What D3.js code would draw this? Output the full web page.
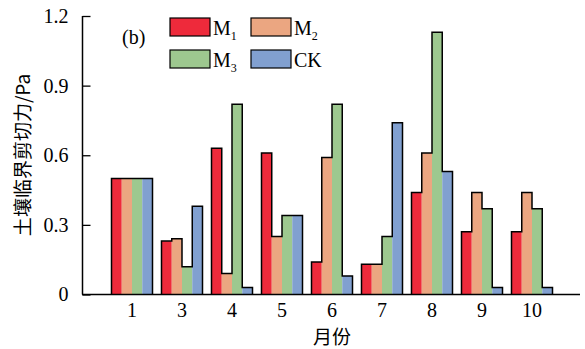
<!DOCTYPE html>
<html>
<head>
<meta charset="utf-8">
<script src="https://cdn.jsdelivr.net/npm/d3@7"></script>
<style>
  body { margin: 0; background: #fff; }
  text { font-family: "Liberation Serif", "Times New Roman", serif; fill: #000; }
  .cjk { font-family: "Noto Sans CJK SC", sans-serif; }
</style>
</head>
<body>
<div id="vis"></div>
<script>
// months along the x axis
var months = ['1', '3', '4', '5', '6', '7', '8', '9', '10'];
// series names and values (Pa)
var seriesNames = ['M1', 'M2', 'M3', 'CK'];
var m1 = [0.50, 0.23, 0.63, 0.61, 0.14, 0.13, 0.44, 0.27, 0.27];
var m2 = [0.50, 0.24, 0.09, 0.25, 0.59, 0.13, 0.61, 0.44, 0.44];
var m3 = [0.50, 0.12, 0.82, 0.34, 0.82, 0.25, 1.13, 0.37, 0.37];
var ck = [0.50, 0.38, 0.03, 0.34, 0.08, 0.74, 0.53, 0.03, 0.03];
var yTicks = [0, 0.3, 0.6, 0.9, 1.2];

var width = 585;
var height = 349;
var colors = ['#ee2a3b', '#eba681', '#9dc88f', '#81a0d0'];
var values = [m1, m2, m3, ck];

var svg = d3.select('#vis').append('svg')
  .attr('width', width)
  .attr('height', height);

var y = d3.scaleLinear().domain([0, 1.2]).range([294.5, 16]);

var x0 = d3.scaleBand().domain(months).range([107, 557]);
var groupW = 41;
var x1 = d3.scaleBand().domain(seriesNames)
  .range([(x0.bandwidth() - groupW) / 2, (x0.bandwidth() + groupW) / 2]);

// bars
months.forEach(function (m, i) {
  var g = svg.append('g').attr('transform', 'translate(' + x0(m) + ',0)');
  g.selectAll('rect')
    .data(seriesNames)
    .enter().append('rect')
    .attr('x', function (s) { return x1(s); })
    .attr('y', function (s, j) { return y(values[j][i]); })
    .attr('width', x1.bandwidth())
    .attr('height', function (s, j) { return y(0) - y(values[j][i]); })
    .attr('fill', function (s, j) { return colors[j]; });

  // black silhouette outline of the group
  var path = d3.path();
  var bw = x1.bandwidth();
  path.moveTo(x1(seriesNames[0]), y(0));
  seriesNames.forEach(function (s, j) {
    path.lineTo(x1(s), y(values[j][i]));
    path.lineTo(x1(s) + bw, y(values[j][i]));
  });
  path.lineTo(x1(seriesNames[3]) + bw, y(0));
  g.append('path')
    .attr('d', path.toString())
    .attr('fill', 'none')
    .attr('stroke', '#000')
    .attr('stroke-width', 1.5)
    .attr('stroke-linejoin', 'miter');
});

// y axis with inward ticks
var yAxis = d3.axisLeft(y).tickValues(yTicks)
  .tickSize(-8).tickPadding(14)
  .tickFormat(function (d) { return d === 0 ? '0' : d3.format('.1f')(d); });
var gy = svg.append('g').attr('transform', 'translate(82.5,0)').call(yAxis);
gy.attr('font-family', null);
gy.select('.domain').attr('d', 'M0,' + y(1.2) + 'V' + y(0)).attr('stroke-width', 1.5);
gy.selectAll('.tick line').attr('stroke-width', 1.3);
gy.selectAll('.tick text')
  .style('font-family', '"Liberation Serif", serif')
  .style('font-size', '20px');

// x axis line, no ticks
var xAxis = d3.axisBottom(x0).tickSize(0).tickPadding(8);
var gx = svg.append('g').attr('transform', 'translate(0,' + y(0) + ')').call(xAxis);
gx.attr('font-family', null);
gx.select('.domain').attr('d', 'M82,0H580').attr('stroke-width', 1.5);
gx.selectAll('.tick text')
  .style('font-family', '"Liberation Serif", serif')
  .style('font-size', '20px');

// axis titles
svg.append('text')
  .attr('class', 'cjk')
  .attr('transform', 'translate(30,155) rotate(-90)')
  .attr('text-anchor', 'middle')
  .style('font-size', '19px')
  .text('土壤临界剪切力/Pa');

svg.append('text')
  .attr('class', 'cjk')
  .attr('x', 332)
  .attr('y', 344)
  .attr('text-anchor', 'middle')
  .style('font-size', '19px')
  .text('月份');

// panel label
svg.append('text')
  .attr('x', 122)
  .attr('y', 44)
  .style('font-size', '20px')
  .text('(b)');

// legend
var legendPos = [[170, 18], [251, 18], [170, 50], [251, 50]];
var legendLabels = [['M', '1'], ['M', '2'], ['M', '3'], ['CK', '']];
var lg = svg.append('g');
legendPos.forEach(function (p, j) {
  lg.append('rect')
    .attr('x', p[0]).attr('y', p[1])
    .attr('width', 40).attr('height', 18)
    .attr('fill', colors[j])
    .attr('stroke', '#000')
    .attr('stroke-width', 1.2);
  var t = lg.append('text')
    .attr('x', p[0] + 43)
    .attr('y', p[1] + 17)
    .style('font-size', '20px');
  t.append('tspan').text(legendLabels[j][0]);
  if (legendLabels[j][1]) {
    t.append('tspan')
      .attr('dy', 5)
      .style('font-size', '12px')
      .text(legendLabels[j][1]);
  }
});
</script>
</body>
</html>
